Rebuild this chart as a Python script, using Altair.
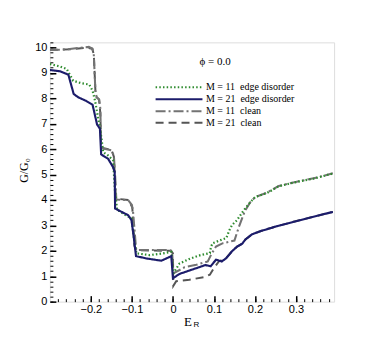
import altair as alt
import pandas as pd

NB = "\u00a0"
names = [
    "M = 11" + NB + NB + "edge disorder",
    "M = 21" + NB + NB + "edge disorder",
    "M = 11" + NB + NB + "clean",
    "M = 21" + NB + NB + "clean",
]
colors = ["#2e8b2e", "#1c1c6b", "#737373", "#555555"]
dashes = [[1.5, 2.2], [1, 0], [10, 3, 2, 3], [8, 5]]
widths = [2.2, 2.0, 1.1, 1.0]

# M = 11 edge disorder (green dotted)
g_x = [-0.300, -0.275, -0.259, -0.243, -0.223, -0.204, -0.196, -0.190, -0.182, -0.178, -0.174,
       -0.170, -0.158, -0.146, -0.141, -0.136, -0.120, -0.101, -0.095, -0.089, -0.057, -0.024,
       -0.004, 0.001, 0.016, 0.043, 0.067, 0.090, 0.093, 0.097, 0.118, 0.130, 0.138, 0.144,
       0.156, 0.173, 0.189, 0.201, 0.229, 0.258, 0.302, 0.343, 0.390]
g_y = [9.35, 9.25, 9.15, 8.69, 8.59, 8.54, 8.30, 7.91, 7.19, 6.86, 6.40,
       5.88, 5.75, 5.56, 4.30, 3.62, 3.45, 3.27, 2.50, 1.90, 1.83, 1.90,
       1.96, 1.11, 1.50, 1.70, 1.83, 1.91, 2.17, 2.30, 2.43, 2.50, 2.82, 3.01,
       3.20, 3.60, 3.92, 4.12, 4.27, 4.54, 4.71, 4.84, 5.04]

# M = 21 edge disorder (navy solid)
b_x = [-0.300, -0.275, -0.255, -0.242, -0.231, -0.212, -0.196, -0.185, -0.178, -0.175,
       -0.158, -0.146, -0.142, -0.141, -0.125, -0.109, -0.101, -0.096, -0.090, -0.065,
       -0.028, -0.004, 0.000, 0.016, 0.043, 0.067, 0.079, 0.092, 0.105, 0.119, 0.130,
       0.144, 0.156, 0.169, 0.177, 0.193, 0.213, 0.254, 0.294, 0.335, 0.390]
b_y = [9.11, 9.06, 8.93, 8.17, 8.04, 7.90, 7.75, 6.97, 6.80, 5.79,
       5.62, 5.29, 5.10, 3.66, 3.53, 3.40, 3.20, 2.60, 1.79, 1.70,
       1.61, 1.79, 0.92, 1.09, 1.24, 1.37, 1.44, 1.39, 1.65, 1.58, 1.71,
       1.98, 2.16, 2.28, 2.45, 2.65, 2.77, 2.97, 3.14, 3.31, 3.53]

# M = 11 clean (dash-dot)
c11_x = [-0.300, -0.260, -0.230, -0.205, -0.196, -0.193, -0.189, -0.186, -0.180, -0.177,
         -0.175, -0.170, -0.150, -0.144, -0.141, -0.138, -0.109, -0.100, -0.097, -0.090,
         -0.089, -0.008, -0.002, 0.001, 0.028, 0.057, 0.085, 0.093, 0.105, 0.122, 0.150,
         0.160, 0.175, 0.189, 0.201, 0.229, 0.258, 0.302, 0.343, 0.390]
c11_y = [9.90, 9.92, 9.98, 10.02, 9.95, 9.74, 8.30, 8.04, 7.95, 7.60,
         6.10, 6.02, 5.95, 5.75, 5.00, 4.02, 3.99, 3.80, 3.50, 2.10,
         2.03, 2.03, 1.98, 1.11, 1.35, 1.45, 1.58, 1.84, 2.17, 2.30, 2.40,
         2.90, 3.55, 3.92, 4.12, 4.28, 4.55, 4.72, 4.85, 5.05]

# M = 21 clean (dashed)
c21_x = [-0.300, -0.250, -0.210, -0.197, -0.193, -0.189, -0.186, -0.180, -0.177, -0.175,
         -0.150, -0.144, -0.139, -0.108, -0.099, -0.094, -0.090, -0.005, 0.000, 0.001,
         0.008, 0.040, 0.077, 0.090, 0.100, 0.112, 0.130, 0.144, 0.156, 0.169, 0.177,
         0.193, 0.213, 0.254, 0.294, 0.335, 0.390]
c21_y = [9.90, 9.93, 9.99, 9.95, 9.74, 8.30, 8.04, 7.95, 7.40, 6.05,
         5.98, 5.70, 4.05, 4.00, 3.70, 2.20, 2.02, 2.00, 1.90, 0.62,
         0.80, 0.86, 0.97, 1.06, 1.32, 1.58, 1.72, 1.98, 2.16, 2.28, 2.45,
         2.65, 2.77, 2.97, 3.14, 3.31, 3.53]

x_major = [-0.2, -0.1, 0.0, 0.1, 0.2, 0.3]
y_major = list(range(0, 11))
x_minor = [round(-0.28 + 0.02 * i, 2) for i in range(34)]
y_minor = [round(0.2 * i, 1) for i in range(52)]

rows = []
for name, xs, ys in [(names[0], g_x, g_y), (names[1], b_x, b_y),
                     (names[2], c11_x, c11_y), (names[3], c21_x, c21_y)]:
    for i, (xv, yv) in enumerate(zip(xs, ys)):
        rows.append({"series": name, "x": xv, "y": yv, "i": i})
df = pd.DataFrame(rows)

xscale = alt.Scale(domain=[-0.3, 0.393], nice=False, zero=False)
yscale = alt.Scale(domain=[0, 10.2], nice=False, zero=False)

legend = alt.Legend(
    title=None, orient="none", legendX=123, legendY=38.5,
    symbolType="M-4.7,0H4.7", symbolSize=100, labelFont="Liberation Serif",
    labelFontSize=10, labelColor="black", labelOffset=20.5, rowPadding=0,
    padding=0, symbolOpacity=1,
)

axis_x_major = alt.Axis(
    orient="bottom",
    values=x_major, format=".1~f", offset=-6, tickSize=6, domain=False, grid=False,
    labelFont="Liberation Sans", labelFontSize=11, labelColor="black", labelPadding=2,
    tickColor="black", tickWidth=1.5, title="E", titleFont="Liberation Serif",
    titleFontSize=13, titleFontWeight="normal", titleColor="black", titlePadding=1, titleX=138,
)
axis_y_major = alt.Axis(
    orient="left",
    values=y_major, format="d", offset=-6, tickSize=6, domain=False, grid=False,
    labelFont="Liberation Sans", labelFontSize=11, labelColor="black", labelPadding=3,
    tickColor="black", tickWidth=1.5, title="G/G₀", titleFont="Liberation Serif",
    titleFontSize=12, titleFontWeight="normal", titleColor="black",
    titleX=-25, titleY=128, titleBaseline="bottom", titleAngle=270,
)
axis_x_minor = alt.Axis(orient="bottom", values=x_minor, offset=-3, tickSize=3, domain=False,
                        grid=False, labels=False, title=None, tickColor="black", tickWidth=1)
axis_y_minor = alt.Axis(orient="left", values=y_minor, offset=-3, tickSize=3, domain=False,
                        grid=False, labels=False, title=None, tickColor="black", tickWidth=1)

color_enc = alt.Color("series:N", scale=alt.Scale(domain=names, range=colors), legend=legend)
dash_enc = alt.StrokeDash("series:N", scale=alt.Scale(domain=names, range=dashes), legend=legend)
width_enc = alt.StrokeWidth("series:N", scale=alt.Scale(domain=names, range=widths), legend=legend)


def line_layer(name, axis_x, axis_y):
    return alt.Chart(df).transform_filter(alt.datum.series == name).mark_line(
        clip=True, strokeCap="butt").encode(
        x=alt.X("x:Q", scale=xscale, axis=axis_x),
        y=alt.Y("y:Q", scale=yscale, axis=axis_y),
        color=color_enc, strokeDash=dash_enc, strokeWidth=width_enc,
        order=alt.Order("i:Q"),
    )


layer_c21 = line_layer(names[3], axis_x_major, axis_y_major)
layer_c11 = line_layer(names[2], None, None)
layer_g = line_layer(names[0], None, None)
layer_b = line_layer(names[1], None, None)

ticks_layer = alt.Chart(df).mark_point(opacity=0).encode(
    x=alt.X("x:Q", scale=xscale, axis=axis_x_minor),
    y=alt.Y("y:Q", scale=yscale, axis=axis_y_minor),
)

ann = pd.DataFrame({"t": ["ϕ = 0.0"]})
phi = alt.Chart(ann).mark_text(
    font="Liberation Serif", fontSize=11, align="left", baseline="middle", color="black"
).encode(text="t:N", x=alt.value(150), y=alt.value(20))

sub = pd.DataFrame({"t": ["R"]})
sub_r = alt.Chart(sub).mark_text(
    font="Liberation Sans", fontSize=8, align="left", baseline="alphabetic", color="black"
).encode(text="t:N", x=alt.value(144), y=alt.value(285))

chart = alt.layer(layer_c21, layer_c11, layer_g, layer_b, ticks_layer, phi, sub_r).resolve_axis(
    x="independent", y="independent"
).properties(
    width=285, height=260,
    autosize=alt.AutoSizeParams(type="none"),
    padding={"left": 42, "top": 34, "right": 40, "bottom": 30},
).configure_view(stroke="black", strokeWidth=2).configure(background="white")

chart.save("out.html", embed_options={"renderer": "svg", "actions": False})
